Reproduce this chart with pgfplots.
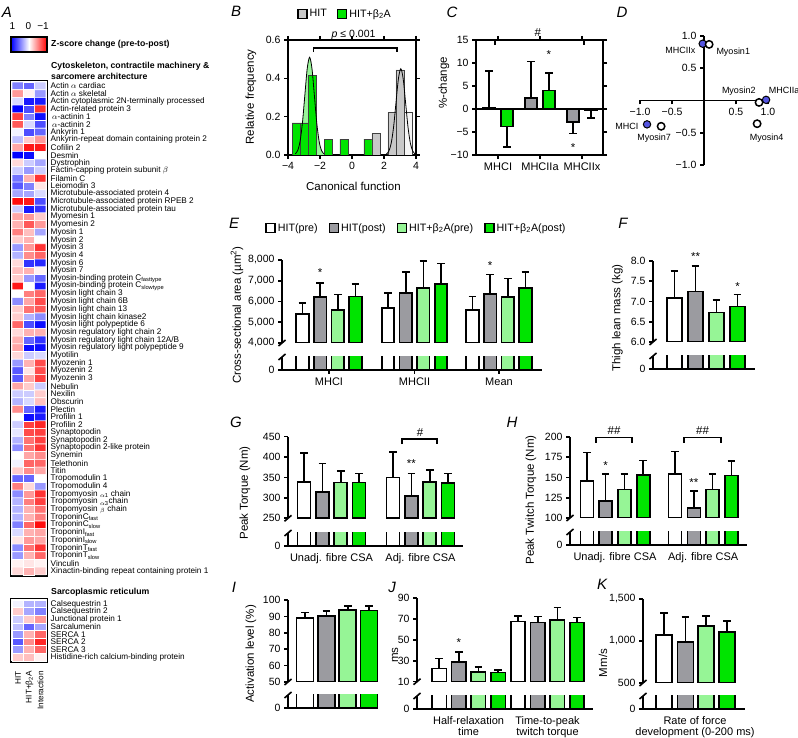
\documentclass[border=0pt]{standalone}
\usepackage{fontspec}
\setmainfont{Liberation Sans}
\usepackage{pgfplots}
\pgfplotsset{compat=1.18}
\definecolor{cgray}{RGB}{155,155,160}
\definecolor{clight}{RGB}{150,245,150}
\definecolor{cgreen}{RGB}{0,228,0}
\definecolor{cbgray}{RGB}{200,200,200}
\definecolor{cblue}{RGB}{85,85,225}
\tikzset{sig/.style={font=\fontsize{11.5}{11.5}\selectfont}}
\pgfplotsset{
  prism/.style={scale only axis, clip mode=individual,
    axis line style={line width=1.6pt},
    tick style={line width=1.6pt, black},
    major tick length=4pt, tick align=outside,
    ticklabel style={font=\fontsize{10.5}{11}\selectfont},
    /pgf/number format/assume math mode=true},
  upper/.style={prism, axis x line=none, axis y line*=left},
  lower/.style={prism, axis x line*=bottom, axis y line*=left, ymin=0, ytick={0}, yticklabels={0}, height=13pt, xtick style={draw=none}},
  breaktop/.style={after end axis/.append code={\draw[line width=1.6pt] ([xshift=-3.5pt,yshift=-3pt]rel axis cs:0,1) -- ([xshift=3.5pt,yshift=3pt]rel axis cs:0,1);}},
  breakbot/.style={after end axis/.append code={\draw[line width=1.6pt] ([xshift=-3.5pt,yshift=-3pt]rel axis cs:0,0) -- ([xshift=3.5pt,yshift=3pt]rel axis cs:0,0);}},
  hb/.style={ybar, bar shift=0pt, bar width=#1, draw=black, line width=1.6pt},
  eb/.style={error bars/.cd, y dir=plus, y explicit, error mark=-, error bar style={line width=1.6pt, black}, error mark options={rotate=90, line width=1.6pt, black, mark size=3.8pt}},
  ebm/.style={error bars/.cd, y dir=minus, y explicit, error mark=-, error bar style={line width=1.6pt, black}, error mark options={rotate=90, line width=1.6pt, black, mark size=3.8pt}},
}
\newcommand{\lab}[1]{\fontsize{#1}{#1}\selectfont}
\begin{document}
\begin{tikzpicture}[x=1pt,y=1pt]
\path[use as bounding box] (0,0) rectangle (798,738);
% panel letters
\foreach \t/\px/\py in {A/7/12,B/236/11,C/452/12,D/622/12,E/234/223,F/623/223,G/236/422,H/512/422,I/234/587,J/392/587,K/602/584}
  \node[font=\lab{15}\itshape] at (\px,738-\py) {\t};
% ---------------- A: colour key ----------------
\shade[left color=blue, right color=red, middle color=white] (11,738-52) rectangle (47,738-37);
\draw[line width=1.6pt] (11,738-52) rectangle (47,738-37);
\node[font=\lab{10}] at (12.5,738-26) {1};
\node[font=\lab{10}] at (28.5,738-26) {0};
\node[font=\lab{10}] at (43,738-26) {−1};
\node[font=\lab{8.7}\bfseries, anchor=west, inner sep=0pt] at (51,738-44) {Z-score change (pre-to-post)};
\node[font=\lab{8.7}\bfseries, anchor=west, inner sep=0pt] at (51,738-66) {Cytoskeleton, contractile machinery \&};
\node[font=\lab{8.7}\bfseries, anchor=west, inner sep=0pt] at (51,738-76) {sarcomere architecture};
\node[font=\lab{8.7}\bfseries, anchor=west, inner sep=0pt] at (51,738-592) {Sarcoplasmic reticulum};
\node[font=\lab{8.2}, rotate=90, anchor=east, inner sep=0pt] at (18,738-671) {HIT};
\node[font=\lab{8.2}, rotate=90, anchor=east, inner sep=0pt] at (29.5,738-671) {HIT+β\textsubscript{2}A};
\node[font=\lab{8.2}, rotate=90, anchor=east, inner sep=0pt] at (40.5,738-671) {Interaction};
% ---------------- A: heat map (cytoskeleton) ----------------
\begin{axis}[at={(10.5pt,161.6pt)}, anchor=south west, scale only axis, width=37pt, height=495.9pt,
  xmin=-0.65, xmax=2.65, ymin=0.3, ymax=64.7, y dir=reverse,
  axis line style={line width=1.8pt}, xtick=\empty, ytick={1,...,64}, major tick length=0pt,
  yticklabel pos=right, yticklabel style={font=\lab{8.2}, anchor=west, inner sep=0pt, xshift=3pt},
  colormap={zs}{rgb255=(255,0,0) rgb255=(255,255,255) rgb255=(0,0,255)},
  point meta min=-1, point meta max=1,
  yticklabels={{Actin $\alpha$ cardiac},{Actin $\alpha$ skeletal},{Actin cytoplasmic 2N-terminally processed},{Actin-related protein 3},{\,$\alpha$-actinin 1},{\,$\alpha$-actinin 2},{Ankyrin 1},{Ankyrin-repeat domain containing protein 2},{Cofilin 2},{Desmin},{Dystrophin},{Factin-capping protein subunit $\beta$},{Filamin C},{Leiomodin 3},{Microtubule-associated protein 4},{Microtubule-associated protein RPEB 2},{Microtubule-associated protein tau},{Myomesin 1},{Myomesin 2},{Myosin 1},{Myosin 2},{Myosin 3},{Myosin 4},{Myosin 6},{Myosin 7},{Myosin-binding protein C\textsubscript{fasttype}},{Myosin-binding protein C\textsubscript{slowtype}},{Myosin light chain 3},{Myosin light chain 6B},{Myosin light chain 13},{Myosin light chain kinase2},{Myosin light polypeptide 6},{Myosin regulatory light chain 2},{Myosin regulatory light chain 12A/B},{Myosin regulatory light polypeptide 9},{Myotilin},{Myozenin 1},{Myozenin 2},{Myozenin 3},{Nebulin},{Nexilin},{Obscurin},{Plectin},{Profilin 1},{Profilin 2},{Synaptopodin},{Synaptopodin 2},{Synaptopodin 2-like protein},{Synemin},{Telethonin},{Titin},{Tropomodulin 1},{Tropomodulin 4},{Tropomyosin \textsubscript{$\alpha$1} chain},{Tropomyosin \textsubscript{$\alpha$3}chain},{Tropomyosin \textsubscript{$\beta$} chain},{TroponinC\textsubscript{fast}},{TroponinC\textsubscript{slow}},{TroponinI\textsubscript{fast}},{TroponinI\textsubscript{slow}},{TroponinT\textsubscript{fast}},{TroponinT\textsubscript{slow}},{Vinculin},{Xinactin-binding repeat containing protein 1}}]
\addplot[matrix plot*, mesh/cols=3, point meta=explicit, draw=white, line width=0.6pt] table[x=x, y=y, meta=c, row sep=\\] {
x y c\\
0 1 0.5\\ 1 1 0.6\\ 2 1 0.2\\
0 2 -0.4\\ 1 2 -0.05\\ 2 2 0.4\\
0 3 0.15\\ 1 3 0.9\\ 2 3 0.9\\
0 4 1.0\\ 1 4 0.7\\ 2 4 -0.8\\
0 5 -0.75\\ 1 5 0.5\\ 2 5 0.95\\
0 6 -0.65\\ 1 6 0.15\\ 2 6 0.7\\
0 7 0.05\\ 1 7 0.7\\ 2 7 0.6\\
0 8 0.25\\ 1 8 -0.2\\ 2 8 -0.4\\
0 9 -0.35\\ 1 9 -0.9\\ 2 9 -0.9\\
0 10 1.0\\ 1 10 0.95\\ 2 10 0.0\\
0 11 -0.15\\ 1 11 0.2\\ 2 11 0.35\\
0 12 0.2\\ 1 12 0.4\\ 2 12 0.2\\
0 13 0.55\\ 1 13 -0.3\\ 2 13 -0.8\\
0 14 0.65\\ 1 14 0.5\\ 2 14 -0.1\\
0 15 0.35\\ 1 15 0.35\\ 2 15 0.15\\
0 16 -0.95\\ 1 16 -0.9\\ 2 16 0.7\\
0 17 0.2\\ 1 17 0.9\\ 2 17 0.8\\
0 18 -0.35\\ 1 18 -0.4\\ 2 18 -0.2\\
0 19 -0.3\\ 1 19 -0.65\\ 2 19 -0.4\\
0 20 -0.5\\ 1 20 -0.25\\ 2 20 0.35\\
0 21 -0.2\\ 1 21 -0.3\\ 2 21 0.0\\
0 22 0.4\\ 1 22 -0.4\\ 2 22 -0.8\\
0 23 0.3\\ 1 23 -0.45\\ 2 23 -0.6\\
0 24 -0.15\\ 1 24 0.8\\ 2 24 0.85\\
0 25 -0.25\\ 1 25 -0.3\\ 2 25 -0.05\\
0 26 -0.2\\ 1 26 0.4\\ 2 26 0.6\\
0 27 -0.9\\ 1 27 0.0\\ 2 27 0.9\\
0 28 0.0\\ 1 28 -0.5\\ 2 28 -0.6\\
0 29 0.45\\ 1 29 -0.35\\ 2 29 -0.7\\
0 30 -0.2\\ 1 30 -0.55\\ 2 30 -0.65\\
0 31 -0.2\\ 1 31 0.3\\ 2 31 0.45\\
0 32 -0.6\\ 1 32 0.7\\ 2 32 0.95\\
0 33 -0.15\\ 1 33 -0.3\\ 2 33 -0.3\\
0 34 -0.3\\ 1 34 0.6\\ 2 34 0.8\\
0 35 -0.35\\ 1 35 0.95\\ 2 35 0.95\\
0 36 -0.15\\ 1 36 0.2\\ 2 36 0.15\\
0 37 0.4\\ 1 37 -0.3\\ 2 37 -0.7\\
0 38 0.65\\ 1 38 -0.1\\ 2 38 -0.7\\
0 39 0.65\\ 1 39 -0.35\\ 2 39 -0.75\\
0 40 -0.35\\ 1 40 -0.2\\ 2 40 0.2\\
0 41 0.2\\ 1 41 0.2\\ 2 41 -0.2\\
0 42 0.3\\ 1 42 0.15\\ 2 42 -0.25\\
0 43 -0.45\\ 1 43 0.6\\ 2 43 0.9\\
0 44 0.0\\ 1 44 0.95\\ 2 44 0.9\\
0 45 0.2\\ 1 45 -0.75\\ 2 45 -0.85\\
0 46 0.1\\ 1 46 -0.7\\ 2 46 -0.75\\
0 47 0.3\\ 1 47 -0.55\\ 2 47 -0.75\\
0 48 0.45\\ 1 48 -0.55\\ 2 48 -0.8\\
0 49 0.0\\ 1 49 -0.35\\ 2 49 -0.45\\
0 50 0.05\\ 1 50 -0.6\\ 2 50 -0.6\\
0 51 -0.2\\ 1 51 -0.45\\ 2 51 -0.35\\
0 52 0.6\\ 1 52 0.6\\ 2 52 0.0\\
0 53 -0.5\\ 1 53 -0.15\\ 2 53 0.4\\
0 54 0.45\\ 1 54 -0.4\\ 2 54 -0.8\\
0 55 0.3\\ 1 55 -0.5\\ 2 55 -0.75\\
0 56 0.3\\ 1 56 -0.3\\ 2 56 -0.55\\
0 57 0.3\\ 1 57 -0.3\\ 2 57 -0.5\\
0 58 0.5\\ 1 58 -0.6\\ 2 58 -0.95\\
0 59 0.15\\ 1 59 -0.3\\ 2 59 -0.35\\
0 60 -0.1\\ 1 60 -0.4\\ 2 60 -0.35\\
0 61 0.45\\ 1 61 -0.55\\ 2 61 -0.8\\
0 62 0.4\\ 1 62 -0.3\\ 2 62 -0.6\\
0 63 -0.05\\ 1 63 -0.1\\ 2 63 -0.05\\
0 64 -0.15\\ 1 64 -0.3\\ 2 64 -0.2\\
};
\end{axis}
% ---------------- A: heat map (sarcoplasmic reticulum) ----------------
\begin{axis}[at={(10.5pt,75.6pt)}, anchor=south west, scale only axis, width=37pt, height=63.8pt,
  xmin=-0.65, xmax=2.65, ymin=0.3, ymax=8.7, y dir=reverse,
  axis line style={line width=1.8pt}, xtick=\empty, ytick={1,...,8}, major tick length=0pt,
  yticklabel pos=right, yticklabel style={font=\lab{8.2}, anchor=west, inner sep=0pt, xshift=3pt},
  colormap={zs}{rgb255=(255,0,0) rgb255=(255,255,255) rgb255=(0,0,255)},
  point meta min=-1, point meta max=1,
  yticklabels={{Calsequestrin 1},{Calsequestrin 2},{Junctional protein 1},{Sarcalumenin},{SERCA 1},{SERCA 2},{SERCA 3},{Histidine-rich calcium-binding protein}}]
\addplot[matrix plot*, mesh/cols=3, point meta=explicit, draw=white, line width=0.6pt] table[x=x, y=y, meta=c, row sep=\\] {
x y c\\
0 1 0.05\\ 1 1 0.3\\ 2 1 0.3\\
0 2 -0.2\\ 1 2 0.35\\ 2 2 0.5\\
0 3 0.2\\ 1 3 -0.2\\ 2 3 -0.4\\
0 4 0.25\\ 1 4 0.6\\ 2 4 0.35\\
0 5 0.4\\ 1 5 -0.3\\ 2 5 -0.6\\
0 6 0.65\\ 1 6 -0.45\\ 2 6 -0.85\\
0 7 0.4\\ 1 7 -0.3\\ 2 7 -0.6\\
0 8 -0.2\\ 1 8 -0.25\\ 2 8 -0.05\\
};
\end{axis}
% ---------------- B ----------------
\begin{axis}[prism, at={(288pt,583pt)}, anchor=south west, width=128pt, height=115pt,
  xmin=-4, xmax=4, ymin=0, ymax=0.6,
  xtick={-4,-2,0,2,4}, xticklabels={−4,−2,0,2,4},
  ytick={0,0.2,0.4,0.6}, yticklabels={0.0,0.2,0.4,0.6},
  legend style={at={(0.07,1.226)}, anchor=west, draw=none, fill=none, inner sep=0pt, legend columns=2, font=\lab{10.7}, /tikz/every even column/.append style={column sep=8pt}},
  legend image code/.code={\draw[#1, draw=black, line width=1.5pt] (0pt,-4.5pt) rectangle (9pt,4.5pt);}]
\addplot[fill=cgreen!40, draw=none, smooth, forget plot] coordinates {(-3.55,0.0057) (-3.4,0.0224) (-3.25,0.069) (-3.1,0.1656) (-2.95,0.3093) (-2.8,0.450) (-2.65,0.51) (-2.5,0.450) (-2.35,0.3093) (-2.2,0.1656) (-2.05,0.069) (-1.9,0.0224) (-1.75,0.0057)} \closedcycle;
\addplot[ybar, bar shift=0pt, bar width=0.5, fill=cgreen, draw=black!75, line width=0.7pt, forget plot] coordinates {(-3.5,0.167) (-3.0,0.167) (-2.5,0.417) (-1.5,0.083) (-0.5,0.083) (1.0,0.083)};
\addplot[ybar, bar shift=0pt, bar width=0.5, fill=cbgray, draw=black!75, line width=0.7pt, forget plot] coordinates {(1.5,0.111) (2.5,0.222) (3.0,0.444)};
\addplot[ybar, bar shift=0pt, bar width=0.5, fill=gray!8, draw=black!75, line width=0.7pt, forget plot] coordinates {(3.5,0.222)};
\addplot[black, line width=0.8pt, smooth, forget plot] coordinates {(-3.55,0.0057) (-3.4,0.0224) (-3.25,0.069) (-3.1,0.1656) (-2.95,0.3093) (-2.8,0.450) (-2.65,0.51) (-2.5,0.450) (-2.35,0.3093) (-2.2,0.1656) (-2.05,0.069) (-1.9,0.0224) (-1.75,0.0057)};
\addplot[black, line width=0.8pt, smooth, forget plot] coordinates {(2.15,0.005) (2.3,0.0198) (2.45,0.0609) (2.6,0.1461) (2.75,0.2729) (2.9,0.3971) (3.05,0.45) (3.2,0.3971) (3.35,0.2729) (3.5,0.1461) (3.65,0.0609) (3.8,0.0198) (3.95,0.005)};
\addlegendimage{fill=cbgray}\addlegendentry{HIT}
\addlegendimage{fill=cgreen}\addlegendentry{HIT+β\textsubscript{2}A}
\draw[line width=1.5pt] (axis cs:-2.4,0.537) -- (axis cs:-2.4,0.558) -- (axis cs:2.8,0.558) -- (axis cs:2.8,0.537);
\node[font=\lab{10.5}] at (axis cs:0.1,0.628) {\textit{p} ≤ 0.001};
\end{axis}
\node[font=\lab{11.5}, rotate=90] at (251,738-97) {Relative frequency};
\node[font=\lab{11.5}] at (353.5,738-186) {Canonical function};
% ---------------- C ----------------
\begin{axis}[prism, at={(476pt,583pt)}, anchor=south west, width=127pt, height=115pt,
  xmin=-0.524, xmax=2.5, ymin=-10, ymax=15,
  ytick={-10,-5,0,5,10,15}, yticklabels={−10,−5,0,5,10,15},
  xtick={0,1,2}, xticklabels={MHCI,MHCIIa,MHCIIx}, xticklabel style={font=\lab{11}}]
\addplot[hb=0.29, fill=cgray, eb] coordinates {(-0.21,0.3) +- (0,8.0) (0.79,2.4) +- (0,7.9)};
\addplot[hb=0.29, fill=cgray, ebm] coordinates {(1.79,-2.8) +- (0,2.5)};
\addplot[hb=0.29, fill=cgreen, eb] coordinates {(1.21,4.0) +- (0,3.8)};
\addplot[hb=0.29, fill=cgreen, ebm] coordinates {(0.21,-3.8) +- (0,4.5) (2.21,-0.3) +- (0,1.7)};
\draw[line width=1.6pt] (axis cs:-0.524,0) -- (axis cs:2.5,0);
\draw[line width=1.5pt] (axis cs:-0.07,13.9) -- (axis cs:-0.07,15) -- (axis cs:2.05,15) -- (axis cs:2.05,13.9);
\node[sig] at (axis cs:0.95,16.65) {\#};
\node[sig] at (axis cs:1.21,11.9) {*};
\node[sig] at (axis cs:1.79,-8.35) {*};
\end{axis}
\node[font=\lab{11.5}, rotate=90] at (444,738-83) {\%-change};
% ---------------- D ----------------
\begin{axis}[scale only axis, at={(640pt,573pt)}, anchor=south west, width=128pt, height=129pt,
  xmin=-1, xmax=1, ymin=-1, ymax=1, axis lines=middle, axis line style={line width=1.6pt, -},
  tick style={line width=1.6pt, black}, major tick length=4pt, tick align=outside,
  xtick={-1,-0.5,0.5,1}, xticklabels={−1.0,−0.5,0.5,1.0},
  ytick={-1,-0.5,0.5,1}, yticklabels={−1.0,−0.5,0.5,1.0},
  ticklabel style={font=\lab{10.5}}, clip=false]
\addplot[only marks, mark=*, mark size=3.7pt, mark options={fill=cblue, draw=black, line width=1pt}] coordinates {(-0.02,0.88) (0.97,0.01) (-0.89,-0.37)};
\addplot[only marks, mark=*, mark size=3.7pt, mark options={fill=white, draw=black, line width=1.5pt}] coordinates {(0.08,0.87) (0.86,-0.03) (0.83,-0.36) (-0.67,-0.40)};
\node[font=\lab{9}, anchor=east] at (axis cs:-0.08,0.78) {MHCIIx};
\node[font=\lab{9}, anchor=west] at (axis cs:0.14,0.75) {Myosin1};
\node[font=\lab{9}, anchor=east] at (axis cs:0.86,0.15) {Myosin2};
\node[font=\lab{9}, anchor=west] at (axis cs:0.96,0.16) {MHCIIa};
\node[font=\lab{9}] at (axis cs:0.98,-0.58) {Myosin4};
\node[font=\lab{9}, anchor=east] at (axis cs:-0.97,-0.40) {MHCI};
\node[font=\lab{9}] at (axis cs:-0.78,-0.58) {Myosin7};
\end{axis}
% ---------------- E ----------------
\begin{axis}[upper, breakbot, at={(282pt,395pt)}, anchor=south west, width=260pt, height=83pt,
  xmin=282, xmax=542, ymin=4000, ymax=8000,
  ytick={4000,5000,6000,7000,8000}, yticklabels={{4,000},{5,000},{6,000},{7,000},{8,000}},
  legend style={at={(-0.065,1.386)}, anchor=west, draw=none, fill=none, inner sep=0pt, legend columns=4, font=\lab{10.7}, /tikz/every even column/.append style={column sep=9pt}},
  legend image code/.code={\draw[#1, draw=black, line width=1.5pt] (0pt,-4.5pt) rectangle (9pt,4.5pt);}]
\addplot[hb=12.5, fill=white, forget plot, eb] coordinates {(302.5,5400) +- (0,520) (388,5680) +- (0,730) (472.5,5590) +- (0,660)};
\addplot[hb=12.5, fill=cgray, forget plot, eb] coordinates {(320.2,6210) +- (0,680) (405.7,6410) +- (0,1020) (490.2,6370) +- (0,930)};
\addplot[hb=12.5, fill=clight, forget plot, eb] coordinates {(337.8,5590) +- (0,740) (423.3,6650) +- (0,1300) (507.8,6210) +- (0,900)};
\addplot[hb=12.5, fill=cgreen, forget plot, eb] coordinates {(355.5,6240) +- (0,590) (441,6830) +- (0,1010) (525.5,6650) +- (0,780)};
\addlegendimage{fill=white}\addlegendentry{HIT(pre)}
\addlegendimage{fill=cgray}\addlegendentry{HIT(post)}
\addlegendimage{fill=clight}\addlegendentry{HIT+β\textsubscript{2}A(pre)}
\addlegendimage{fill=cgreen}\addlegendentry{HIT+β\textsubscript{2}A(post)}
\node[sig] at (axis cs:320.2,7395) {*};
\node[sig] at (axis cs:490.2,7736) {*};
\end{axis}
\begin{axis}[lower, breaktop, at={(282pt,368pt)}, anchor=south west, width=260pt, ymax=4000,
  xmin=282, xmax=542, xtick={329,414.5,499}, xticklabels={MHCI,MHCII,Mean},
  xtick style={draw=black}, xticklabel style={font=\lab{11}}]
\addplot[hb=12.5, fill=white] coordinates {(302.5,5400) (388,5680) (472.5,5590)};
\addplot[hb=12.5, fill=cgray] coordinates {(320.2,6210) (405.7,6410) (490.2,6370)};
\addplot[hb=12.5, fill=clight] coordinates {(337.8,5590) (423.3,6650) (507.8,6210)};
\addplot[hb=12.5, fill=cgreen] coordinates {(355.5,6240) (441,6830) (525.5,6650)};
\end{axis}
\node[font=\lab{11.5}, rotate=90] at (237,738-315) {Cross-sectional area (µm\textsuperscript{2})};
% ---------------- F ----------------
\begin{axis}[upper, breakbot, at={(653pt,396pt)}, anchor=south west, width=102pt, height=81pt,
  xmin=653, xmax=755, ymin=6, ymax=8,
  ytick={6,6.5,7,7.5,8}, yticklabels={6.0,6.5,7.0,7.5,8.0}]
\addplot[hb=15, fill=white, eb] coordinates {(674.5,7.09) +- (0,0.67)};
\addplot[hb=15, fill=cgray, eb] coordinates {(695.5,7.25) +- (0,0.625)};
\addplot[hb=15, fill=clight, eb] coordinates {(716.5,6.73) +- (0,0.31)};
\addplot[hb=15, fill=cgreen, eb] coordinates {(737.5,6.875) +- (0,0.295)};
\node[sig] at (axis cs:695.5,8.11) {**};
\node[sig] at (axis cs:737.5,7.37) {*};
\end{axis}
\begin{axis}[lower, breaktop, at={(653pt,369pt)}, anchor=south west, width=102pt, ymax=6, xmin=653, xmax=755, xtick=\empty]
\addplot[hb=15, fill=white] coordinates {(674.5,7.09)};
\addplot[hb=15, fill=cgray] coordinates {(695.5,7.25)};
\addplot[hb=15, fill=clight] coordinates {(716.5,6.73)};
\addplot[hb=15, fill=cgreen] coordinates {(737.5,6.875)};
\end{axis}
\node[font=\lab{11.5}, rotate=90] at (617.5,738-318) {Thigh lean mass (kg)};
% ---------------- G ----------------
\begin{axis}[upper, breakbot, at={(288pt,219.7pt)}, anchor=south west, width=175pt, height=81.6pt,
  xmin=288, xmax=463, ymin=250, ymax=450,
  ytick={250,300,350,400,450}, yticklabels={250,300,350,400,450}]
\addplot[hb=13, fill=white, eb] coordinates {(303.9,339) +- (0,71) (392.9,350) +- (0,62)};
\addplot[hb=13, fill=cgray, eb] coordinates {(322.3,315) +- (0,69) (411.3,305) +- (0,55)};
\addplot[hb=13, fill=clight, eb] coordinates {(340.7,338) +- (0,28) (429.7,339) +- (0,29)};
\addplot[hb=13, fill=cgreen, eb] coordinates {(359.1,338) +- (0,22) (448.1,336) +- (0,24)};
\node[sig] at (axis cs:411.3,384) {**};
\draw[line width=1.5pt] (axis cs:402,432) -- (axis cs:402,444.3) -- (axis cs:437,444.3) -- (axis cs:437,432);
\node[sig] at (axis cs:420,460.5) {\#};
\end{axis}
\begin{axis}[lower, breaktop, at={(288pt,192pt)}, anchor=south west, width=175pt, ymax=250,
  xmin=288, xmax=463, xtick={331.5,420.5}, xticklabels={Unadj. fibre CSA,Adj. fibre CSA}, xticklabel style={font=\lab{11}}]
\addplot[hb=13, fill=white] coordinates {(303.9,339) (392.9,350)};
\addplot[hb=13, fill=cgray] coordinates {(322.3,315) (411.3,305)};
\addplot[hb=13, fill=clight] coordinates {(340.7,338) (429.7,339)};
\addplot[hb=13, fill=cgreen] coordinates {(359.1,338) (448.1,336)};
\end{axis}
\node[font=\lab{11.5}, rotate=90] at (245,738-493) {Peak Torque (Nm)};
% ---------------- H ----------------
\begin{axis}[upper, breakbot, at={(570pt,220pt)}, anchor=south west, width=177pt, height=81pt,
  xmin=570, xmax=747, ymin=100, ymax=200,
  ytick={100,125,150,175,200}, yticklabels={100,125,150,175,200}]
\addplot[hb=13, fill=white, eb] coordinates {(586.8,145.8) +- (0,35) (675,154) +- (0,28)};
\addplot[hb=13, fill=cgray, eb] coordinates {(605.6,121) +- (0,33) (693.8,112) +- (0,21.5)};
\addplot[hb=13, fill=clight, eb] coordinates {(624.4,135) +- (0,19) (712.6,135) +- (0,19)};
\addplot[hb=13, fill=cgreen, eb] coordinates {(643.2,153) +- (0,18) (731.4,152.5) +- (0,17.5)};
\node[sig] at (axis cs:605.6,165) {*};
\node[sig] at (axis cs:693.8,144) {**};
\draw[line width=1.5pt] (axis cs:596,192.6) -- (axis cs:596,199.3) -- (axis cs:632,199.3) -- (axis cs:632,192.6);
\draw[line width=1.5pt] (axis cs:684,192.6) -- (axis cs:684,199.3) -- (axis cs:721,199.3) -- (axis cs:721,192.6);
\node[sig] at (axis cs:614,208) {\#\#};
\node[sig] at (axis cs:702.5,208) {\#\#};
\end{axis}
\begin{axis}[lower, breaktop, at={(570pt,193pt)}, anchor=south west, width=177pt, ymax=100,
  xmin=570, xmax=747, xtick={615,703.2}, xticklabels={Unadj. fibre CSA,Adj. fibre CSA}, xticklabel style={font=\lab{11}}]
\addplot[hb=13, fill=white] coordinates {(586.8,145.8) (675,154)};
\addplot[hb=13, fill=cgray] coordinates {(605.6,121) (693.8,112)};
\addplot[hb=13, fill=clight] coordinates {(624.4,135) (712.6,135)};
\addplot[hb=13, fill=cgreen] coordinates {(643.2,153) (731.4,152.5)};
\end{axis}
\node[font=\lab{11.5}, rotate=90] at (531,738-500) {Peak Twitch Torque (Nm)};
% ---------------- I ----------------
\begin{axis}[upper, breakbot, at={(288pt,56pt)}, anchor=south west, width=90pt, height=82pt,
  xmin=288, xmax=378, ymin=50, ymax=100,
  ytick={50,60,70,80,90,100}, yticklabels={50,60,70,80,90,100}]
\addplot[hb=17, fill=white, eb] coordinates {(305,89.2) +- (0,3.1)};
\addplot[hb=17, fill=cgray, eb] coordinates {(326.3,90.2) +- (0,3.1)};
\addplot[hb=17, fill=clight, eb] coordinates {(347.7,93.9) +- (0,2.4)};
\addplot[hb=17, fill=cgreen, eb] coordinates {(369,93.5) +- (0,2.8)};
\end{axis}
\begin{axis}[lower, breaktop, at={(288pt,30pt)}, anchor=south west, width=90pt, ymax=50, xmin=288, xmax=378, xtick=\empty]
\addplot[hb=17, fill=white] coordinates {(305,89.2)};
\addplot[hb=17, fill=cgray] coordinates {(326.3,90.2)};
\addplot[hb=17, fill=clight] coordinates {(347.7,93.9)};
\addplot[hb=17, fill=cgreen] coordinates {(369,93.5)};
\end{axis}
\node[font=\lab{11.5}, rotate=90] at (251,738-654) {Activation level (\%)};
% ---------------- J ----------------
\begin{axis}[upper, breakbot, at={(417pt,56.3pt)}, anchor=south west, width=176pt, height=83.7pt,
  xmin=417, xmax=593, ymin=10, ymax=90,
  ytick={10,30,50,70,90}, yticklabels={10,30,50,70,90}]
\addplot[hb=14.5, fill=white, eb] coordinates {(439.1,22.8) +- (0,9.5) (518,67.4) +- (0,5.4)};
\addplot[hb=14.5, fill=cgray, eb] coordinates {(458.8,29.1) +- (0,9.5) (537.7,66.5) +- (0,5.7)};
\addplot[hb=14.5, fill=clight, eb] coordinates {(478.4,19) +- (0,5.3) (557.3,69) +- (0,11.8)};
\addplot[hb=14.5, fill=cgreen, eb] coordinates {(498.1,18.6) +- (0,2.4) (577,66.5) +- (0,5.0)};
\node[sig] at (axis cs:458.8,47.5) {*};
\end{axis}
\begin{axis}[lower, breaktop, at={(417pt,29pt)}, anchor=south west, width=176pt, ymax=10,
  xmin=417, xmax=593, xtick={468.6,547.5}, xticklabels={{Half-relaxation\\time},{Time-to-peak\\twitch torque}}, xticklabel style={font=\lab{11}, align=center}]
\addplot[hb=14.5, fill=white] coordinates {(439.1,22.8) (518,67.4)};
\addplot[hb=14.5, fill=cgray] coordinates {(458.8,29.1) (537.7,66.5)};
\addplot[hb=14.5, fill=clight] coordinates {(478.4,19) (557.3,69)};
\addplot[hb=14.5, fill=cgreen] coordinates {(498.1,18.6) (577,66.5)};
\end{axis}
\node[font=\lab{11.5}, rotate=90] at (395,738-655) {ms};
% ---------------- K ----------------
\begin{axis}[upper, breakbot, at={(643pt,55pt)}, anchor=south west, width=102pt, height=84pt,
  xmin=643, xmax=745, ymin=500, ymax=1500,
  ytick={500,1000,1500}, yticklabels={500,{1,000},{1,500}}]
\addplot[hb=16, fill=white, eb] coordinates {(664,1068) +- (0,265)};
\addplot[hb=16, fill=cgray, eb] coordinates {(685.5,988) +- (0,298)};
\addplot[hb=16, fill=clight, eb] coordinates {(706,1179) +- (0,115)};
\addplot[hb=16, fill=cgreen, eb] coordinates {(727,1107) +- (0,131)};
\end{axis}
\begin{axis}[lower, breaktop, at={(643pt,29pt)}, anchor=south west, width=102pt, ymax=500,
  xmin=643, xmax=745, xtick={695}, xticklabels={{Rate of force\\development (0-200 ms)}}, xticklabel style={font=\lab{11}, align=center}]
\addplot[hb=16, fill=white] coordinates {(664,1068)};
\addplot[hb=16, fill=cgray] coordinates {(685.5,988)};
\addplot[hb=16, fill=clight] coordinates {(706,1179)};
\addplot[hb=16, fill=cgreen] coordinates {(727,1107)};
\end{axis}
\node[font=\lab{11.5}, rotate=90] at (603,738-663) {Mm/s};
\end{tikzpicture}
\end{document}
